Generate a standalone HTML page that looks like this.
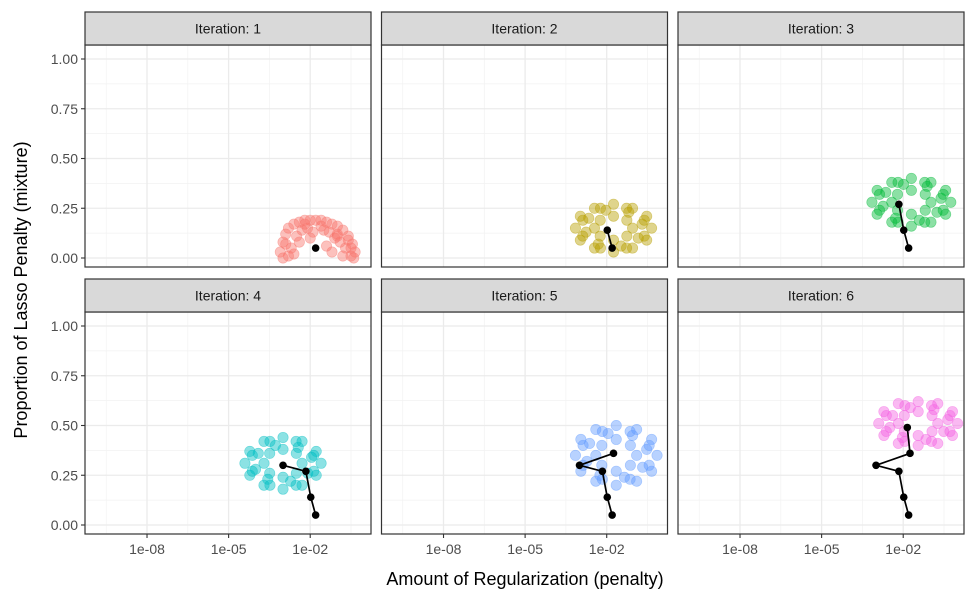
<!DOCTYPE html>
<html><head><meta charset="utf-8"><style>
body{margin:0;background:#fff}
svg{display:block;font-family:"Liberation Sans",Arial,sans-serif}
</style></head><body>
<svg id="chart" width="975" height="602"></svg>
<script>
const iterations=["Iteration: 1","Iteration: 2","Iteration: 3","Iteration: 4","Iteration: 5","Iteration: 6"];
const colors=["#F8766D","#B79F00","#00BA38","#00BFC4","#619CFF","#F564E3"];
const yTicks=[0,0.25,0.5,0.75,1];
const yTickLabels=["0.00","0.25","0.50","0.75","1.00"];
const xTicks=[-8,-5,-2];
const xTickLabels=["1e-08","1e-05","1e-02"];
const pathLog=[-1.8,-1.98,-2.16,-3.0,-1.75,-1.85];
const pathMix=[0.05,0.14,0.27,0.30,0.36,0.49];
const cloudX=[
[-3.1,-3.0,-2.9,-2.8,-2.6,-2.4,-2.2,-2.0,-1.8,-1.6,-1.4,-1.2,-1.0,-0.8,-0.6,-0.45,-0.35,-3.0,-2.7,-2.5,-2.3,-2.1,-1.9,-1.5,-1.3,-1.1,-0.9,-0.7,-0.5,-2.8,-2.6,-1.2,-0.8,-0.5,-2.4,-1.0,-2.9,-2.2,-1.6,-1.0,-0.6,-2.0,-1.4,-0.4],
[-0.35,-0.53,-1.05,-1.75,-2.45,-2.97,-3.15,-2.97,-2.45,-1.75,-1.05,-0.53,-0.70,-1.19,-2.03,-2.66,-2.76,-2.31,-1.47,-0.84,-1.05,-1.75,-2.45,-1.75,-1.26,-2.24,-1.26,-2.24,-0.62,-1.27,-2.23,-2.88,-2.88,-2.23,-1.27,-0.62],
[-0.25,-0.44,-0.98,-1.7,-2.42,-2.96,-3.15,-2.96,-2.42,-1.7,-0.98,-0.44,-0.61,-1.12,-1.99,-2.64,-2.74,-2.28,-1.41,-0.76,-0.98,-1.7,-2.42,-1.7,-1.19,-2.21,-1.19,-2.21,-0.53,-1.21,-2.19,-2.87,-2.87,-2.19,-1.21,-0.53],
[-1.6,-1.78,-2.3,-3.0,-3.7,-4.22,-4.4,-4.22,-3.7,-3.0,-2.3,-1.78,-1.95,-2.44,-3.28,-3.91,-4.01,-3.56,-2.72,-2.09,-2.3,-3.0,-3.7,-3.0,-2.51,-3.49,-2.51,-3.49,-1.87,-2.52,-3.48,-4.13,-4.13,-3.48,-2.52,-1.87],
[-0.15,-0.35,-0.9,-1.65,-2.4,-2.95,-3.15,-2.95,-2.4,-1.65,-0.9,-0.35,-0.53,-1.05,-1.95,-2.63,-2.73,-2.25,-1.35,-0.68,-0.9,-1.65,-2.4,-1.65,-1.13,-2.18,-1.13,-2.18,-0.44,-1.14,-2.16,-2.87,-2.87,-2.16,-1.14,-0.44],
[0.0,-0.19,-0.73,-1.45,-2.18,-2.71,-2.9,-2.71,-2.18,-1.45,-0.73,-0.19,-0.36,-0.87,-1.74,-2.39,-2.49,-2.03,-1.16,-0.51,-0.73,-1.45,-2.18,-1.45,-0.94,-1.96,-0.94,-1.96,-0.28,-0.96,-1.94,-2.62,-2.62,-1.94,-0.96,-0.28]];
const cloudY=[
[0.03,0.08,0.12,0.15,0.17,0.18,0.19,0.19,0.19,0.19,0.18,0.17,0.16,0.14,0.11,0.07,0.03,0.0,0.05,0.11,0.14,0.15,0.13,0.14,0.13,0.10,0.08,0.05,0.01,0.01,0.02,0.03,0.01,0.05,0.08,0.11,0.07,0.17,0.16,0.12,0.09,0.10,0.06,0.0],
[0.15,0.21,0.25,0.27,0.25,0.21,0.15,0.09,0.05,0.03,0.05,0.09,0.17,0.23,0.24,0.20,0.13,0.07,0.06,0.10,0.15,0.21,0.15,0.09,0.19,0.11,0.11,0.19,0.19,0.25,0.25,0.19,0.11,0.05,0.05,0.11],
[0.28,0.34,0.38,0.40,0.38,0.34,0.28,0.22,0.18,0.16,0.18,0.22,0.30,0.36,0.37,0.33,0.26,0.20,0.19,0.23,0.28,0.34,0.28,0.22,0.32,0.24,0.24,0.32,0.32,0.38,0.38,0.32,0.24,0.18,0.18,0.24],
[0.31,0.37,0.42,0.44,0.42,0.37,0.31,0.25,0.20,0.18,0.20,0.25,0.34,0.39,0.40,0.36,0.28,0.23,0.22,0.26,0.31,0.38,0.31,0.24,0.36,0.26,0.26,0.36,0.35,0.42,0.42,0.35,0.27,0.20,0.20,0.27],
[0.35,0.43,0.48,0.50,0.48,0.43,0.35,0.27,0.22,0.20,0.22,0.27,0.38,0.45,0.46,0.41,0.32,0.25,0.24,0.29,0.35,0.43,0.35,0.27,0.40,0.30,0.30,0.40,0.40,0.47,0.47,0.40,0.30,0.23,0.23,0.30],
[0.51,0.57,0.61,0.62,0.61,0.57,0.51,0.45,0.41,0.40,0.41,0.45,0.53,0.58,0.59,0.55,0.49,0.44,0.43,0.47,0.51,0.57,0.51,0.45,0.55,0.47,0.47,0.55,0.55,0.60,0.60,0.55,0.47,0.42,0.42,0.47]];

const NS="http://www.w3.org/2000/svg";
const svg=document.getElementById("chart");
function mk(tag,attrs,parent){const e=document.createElementNS(NS,tag);for(const k in attrs)e.setAttribute(k,attrs[k]);(parent||svg).appendChild(e);return e;}
const panelLefts=[85,381.5,678];
const panelW=286;
const rowTops=[45,312];
const panelH=222;
const xMin=-10.28,pxPerDec=27.2;
function xs(p,v){return panelLefts[p%3]+(v-xMin)*pxPerDec;}
function ys(r,v){return rowTops[r]+14+(1-v)*199;}

for(let p=0;p<6;p++){
  const col=p%3,row=Math.floor(p/3);
  const L=panelLefts[col],T=rowTops[row];
  const g=mk("g",{});
  
  
  mk("rect",{x:L,y:T,width:panelW,height:panelH,fill:"#fff"},g);
  for(let i=0;i<yTicks.length-1;i++){const v=(yTicks[i]+yTicks[i+1])/2;mk("line",{x1:L,x2:L+panelW,y1:ys(row,v),y2:ys(row,v),stroke:"#F2F2F2","stroke-width":0.7},g);}
  const minorX=[-9.5,-6.5,-3.5,-0.5];
  minorX.forEach(v=>mk("line",{x1:xs(p,v),x2:xs(p,v),y1:T,y2:T+panelH,stroke:"#F2F2F2","stroke-width":0.7},g));
  yTicks.forEach(v=>mk("line",{x1:L,x2:L+panelW,y1:ys(row,v),y2:ys(row,v),stroke:"#EBEBEB","stroke-width":1.3},g));
  xTicks.forEach(v=>mk("line",{x1:xs(p,v),x2:xs(p,v),y1:T,y2:T+panelH,stroke:"#EBEBEB","stroke-width":1.3},g));
  for(let i=0;i<cloudX[p].length;i++){
    const c=mk("circle",{cx:xs(p,cloudX[p][i]),cy:ys(row,cloudY[p][i]),r:5.2,fill:colors[p],"fill-opacity":0.45,stroke:colors[p],"stroke-opacity":0.5,"stroke-width":0.6},g);
    
    
  }
  const n=p+1;
  if(n>1){
    let d="";
    for(let i=0;i<n;i++)d+=(i?"L":"M")+xs(p,pathLog[i])+","+ys(row,pathMix[i]);
    const pl=mk("path",{d:d,fill:"none",stroke:"#000","stroke-width":1.7},g);
    
    
  }
  for(let i=0;i<n;i++){
    const c=mk("circle",{cx:xs(p,pathLog[i]),cy:ys(row,pathMix[i]),r:3.8,fill:"#000"},g);
    
    
  }
  mk("rect",{x:L,y:T,width:panelW,height:panelH,fill:"none",stroke:"#333","stroke-width":1.2},g);
  const s=mk("rect",{x:L,y:T-33,width:panelW,height:33,fill:"#D9D9D9",stroke:"#333","stroke-width":1.2},g);
  
  
  const st=mk("text",{x:L+panelW/2,y:T-11.5,"text-anchor":"middle","font-size":14,fill:"#1A1A1A"},g);
  st.textContent=iterations[p];
  
  
  if(col===0){
    yTicks.forEach((v,i)=>{
      mk("line",{x1:L-4,x2:L,y1:ys(row,v),y2:ys(row,v),stroke:"#333","stroke-width":1.1});
      const t=mk("text",{x:L-7,y:ys(row,v)+5,"text-anchor":"end","font-size":14,fill:"#4D4D4D"});
      t.textContent=yTickLabels[i];
      
      
    });
  }
  if(row===1){
    xTicks.forEach((v,i)=>{
      mk("line",{x1:xs(p,v),x2:xs(p,v),y1:T+panelH,y2:T+panelH+4,stroke:"#333","stroke-width":1.1});
      const t=mk("text",{x:xs(p,v),y:T+panelH+20,"text-anchor":"middle","font-size":14,fill:"#4D4D4D"});
      t.textContent=xTickLabels[i];
      
      
    });
  }
}
const xt=mk("text",{x:525,y:585,"text-anchor":"middle","font-size":18,fill:"#000"});
xt.textContent="Amount of Regularization (penalty)";


const yt=mk("text",{x:0,y:0,"text-anchor":"middle","font-size":18,fill:"#000",transform:"translate(27,290) rotate(-90)"});
yt.textContent="Proportion of Lasso Penalty (mixture)";


</script>
</body></html>
